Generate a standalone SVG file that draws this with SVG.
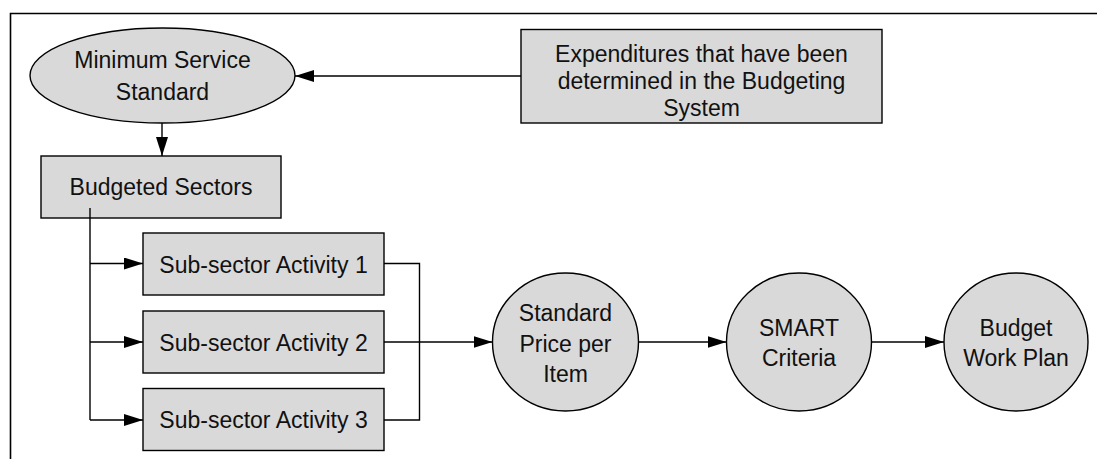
<svg xmlns="http://www.w3.org/2000/svg" width="1097" height="459" viewBox="0 0 1097 459">
<style>
.shape{fill:#d9d9d9;stroke:#000;stroke-width:1.4}
.lbl{font-family:"Liberation Sans",Arial,sans-serif;font-size:23px;fill:#111;text-anchor:middle}
.conn{fill:none;stroke:#000;stroke-width:1.4}
.arr{marker-end:url(#ah)}
</style>
<defs>
<marker id="ah" markerUnits="userSpaceOnUse" markerWidth="19" markerHeight="12" refX="19" refY="6" orient="auto">
<path d="M0,0 L19,6 L0,12 z" fill="#000"/>
</marker>
</defs>
<rect width="1097" height="459" fill="#fff"/>
<path d="M10.5,459 V13.5 H1097" fill="none" stroke="#000" stroke-width="1.6"/>
<g id="mss">
<ellipse class="shape" cx="162.5" cy="75.5" rx="132.5" ry="47.5"/>
<text class="lbl" x="162.5" y="68">Minimum Service</text>
<text class="lbl" x="162.5" y="100">Standard</text>
</g>
<g id="expenditures">
<rect class="shape" x="521" y="29.5" width="361" height="93.5"/>
<text class="lbl" x="701.5" y="61.5">Expenditures that have been</text>
<text class="lbl" x="701.5" y="89">determined in the Budgeting</text>
<text class="lbl" x="701.5" y="116">System</text>
</g>
<g id="budgeted">
<rect class="shape" x="41" y="156" width="240" height="62"/>
<text class="lbl" x="161" y="195">Budgeted Sectors</text>
</g>
<g id="sub1">
<rect class="shape" x="143" y="233" width="241" height="62"/>
<text class="lbl" x="263.5" y="272.5">Sub-sector Activity 1</text>
</g>
<g id="sub2">
<rect class="shape" x="143" y="311" width="241" height="62"/>
<text class="lbl" x="263.5" y="350.5">Sub-sector Activity 2</text>
</g>
<g id="sub3">
<rect class="shape" x="143" y="388.5" width="241" height="62"/>
<text class="lbl" x="263.5" y="428">Sub-sector Activity 3</text>
</g>
<g id="price">
<ellipse class="shape" cx="565.5" cy="342" rx="73" ry="69"/>
<text class="lbl" x="565.5" y="321">Standard</text>
<text class="lbl" x="565.5" y="351.5">Price per</text>
<text class="lbl" x="565.5" y="382">Item</text>
</g>
<g id="smart">
<ellipse class="shape" cx="799" cy="342" rx="72.5" ry="69"/>
<text class="lbl" x="799" y="336">SMART</text>
<text class="lbl" x="799" y="366">Criteria</text>
</g>
<g id="plan">
<ellipse class="shape" cx="1016" cy="342" rx="72" ry="69"/>
<text class="lbl" x="1016" y="336">Budget</text>
<text class="lbl" x="1016" y="366">Work Plan</text>
</g>
<g id="connectors">
<path class="conn arr" d="M521,76 H295"/>
<path class="conn arr" d="M162,123 V156"/>
<path class="conn" d="M90,208 V420"/>
<path class="conn arr" d="M90,263.5 H143"/>
<path class="conn arr" d="M90,342 H143"/>
<path class="conn arr" d="M90,420 H143"/>
<path class="conn" d="M384,263.5 H419.5 V420 H384"/>
<path class="conn arr" d="M384,342 H492.5"/>
<path class="conn arr" d="M638.5,342 H726.5"/>
<path class="conn arr" d="M871.5,342 H944"/>
</g>
</svg>
